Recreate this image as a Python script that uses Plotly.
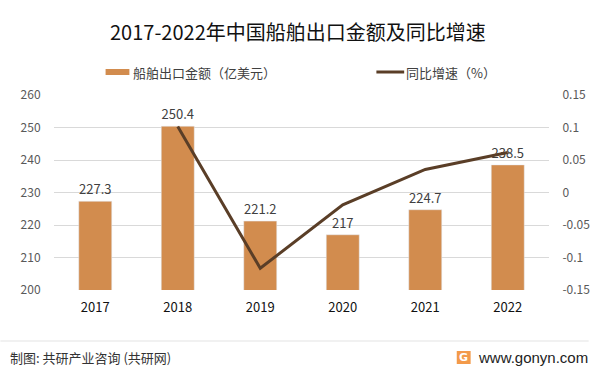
import plotly.graph_objects as go

years = ["2017", "2018", "2019", "2020", "2021", "2022"]
export_value = [227.3, 250.4, 221.2, 217, 224.7, 238.5]
yoy_growth = [None, 0.1016, -0.1166, -0.019, 0.0355, 0.0614]
left_ticks = [200, 210, 220, 230, 240, 250, 260]
right_ticks = [-0.15, -0.1, -0.05, 0, 0.05, 0.1, 0.15]
right_tick_text = ["-0.15", "-0.1", "-0.05", "0", "0.05", "0.1", "0.15"]

W, H = 602, 373
L, R, T, B = 54, 553, 95, 290
FONT = "Noto Sans CJK SC, Microsoft YaHei, sans-serif"
BAR_C = "#D28C4E"
LINE_C = "#5A3E27"

def px(x):
    return (x - L) / (R - L)

def py(y):
    return (B - y) / (B - T)

fig = go.Figure()
fig.add_trace(go.Bar(
    x=years, y=export_value, marker_color=BAR_C, width=0.4,
    text=[f"{v:g}" for v in export_value], textposition="outside",
    textfont=dict(size=13, color="#404040", family=FONT),
    cliponaxis=False, showlegend=False, yaxis="y",
))
fig.add_trace(go.Scatter(
    x=years, y=yoy_growth, mode="lines", line=dict(color=LINE_C, width=3),
    showlegend=False, yaxis="y2",
))

shapes = [
    dict(type="rect", xref="paper", yref="paper", x0=px(106), x1=px(130), y0=py(75), y1=py(69),
         fillcolor=BAR_C, line=dict(width=0)),
    dict(type="line", xref="paper", yref="paper", x0=px(379), x1=px(407), y0=py(72), y1=py(72),
         line=dict(color=LINE_C, width=3)),
    dict(type="line", xref="paper", yref="paper", x0=px(0), x1=px(593), y0=py(341), y1=py(341),
         line=dict(color="#E3E3E3", width=1)),
    dict(type="rect", xref="paper", yref="paper", x0=px(460), x1=px(474), y0=py(364), y1=py(351),
         fillcolor="#F39A4A", line=dict(width=0)),
]

annotations = [
    dict(text="2017-2022年中国船舶出口金额及同比增速", x=px(300), y=py(31), xref="paper", yref="paper",
         showarrow=False, xanchor="center", yanchor="middle", font=dict(size=20, color="#111111", family=FONT)),
    dict(text="船舶出口金额（亿美元）", x=px(132), y=py(72), xref="paper", yref="paper",
         showarrow=False, xanchor="left", yanchor="middle", font=dict(size=13, color="#404040", family=FONT)),
    dict(text="同比增速（%）", x=px(407), y=py(72), xref="paper", yref="paper",
         showarrow=False, xanchor="left", yanchor="middle", font=dict(size=13, color="#404040", family=FONT)),
    dict(text="制图: 共研产业咨询 (共研网)", x=px(8), y=py(357), xref="paper", yref="paper",
         showarrow=False, xanchor="left", yanchor="middle", font=dict(size=13, color="#333333", family=FONT)),
    dict(text="www.gonyn.com", x=px(594), y=py(357), xref="paper", yref="paper",
         showarrow=False, xanchor="right", yanchor="middle", font=dict(size=15, color="#222222", family="Liberation Sans, Arial, sans-serif")),
    dict(text="<b>G</b>", x=px(467), y=py(357.5), xref="paper", yref="paper",
         showarrow=False, xanchor="center", yanchor="middle", font=dict(size=11, color="white", family="DejaVu Sans")),
]

fig.update_layout(
    width=W, height=H,
    margin=dict(l=L, r=W - R, t=T, b=H - B, pad=0),
    paper_bgcolor="white", plot_bgcolor="white",
    bargap=0.6,
    font=dict(family=FONT),
    hovermode=False,
    xaxis=dict(type="category", showgrid=False, zeroline=False, showline=False,
               tickfont=dict(size=13, color="#111111", family=FONT), ticks="outside", ticklen=5,
               tickcolor="rgba(0,0,0,0)"),
    yaxis=dict(range=[200, 260], tickvals=left_ticks, showgrid=True, gridcolor="#D9D9D9", gridwidth=1,
               zeroline=False, showline=False, tickfont=dict(size=12, color="#595959", family=FONT),
               ticks="outside", ticklen=10, tickcolor="rgba(0,0,0,0)"),
    yaxis2=dict(range=[-0.15, 0.15], overlaying="y", side="right", tickvals=right_ticks,
                ticktext=right_tick_text, showgrid=False, zeroline=False, showline=False,
                tickfont=dict(size=12, color="#595959", family=FONT),
                ticks="outside", ticklen=10, tickcolor="rgba(0,0,0,0)"),
    shapes=shapes, annotations=annotations,
)

fig.write_html("out.html", config={"displayModeBar": False, "staticPlot": True},
               post_script="document.body.style.margin='0';document.body.style.overflow='hidden';")
